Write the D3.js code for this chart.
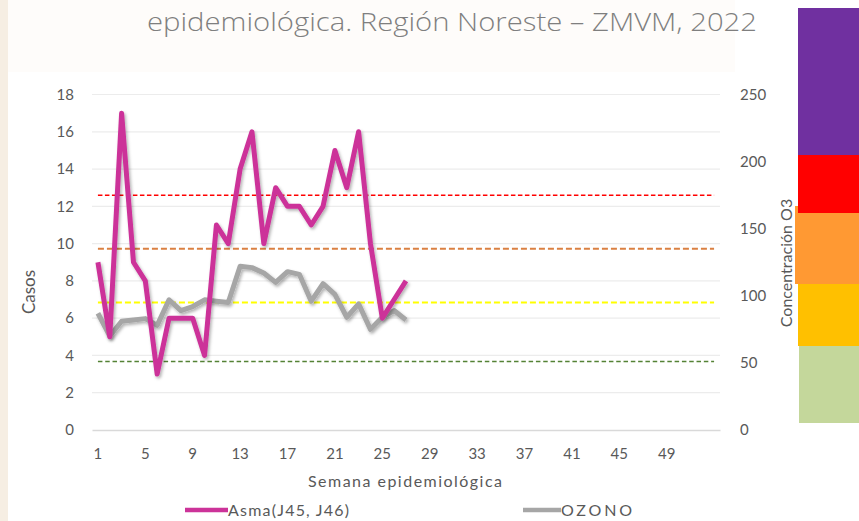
<!DOCTYPE html>
<html>
<head>
<meta charset="utf-8">
<script src="https://cdn.jsdelivr.net/npm/d3@7"></script>
<style>
	html, body { margin: 0; padding: 0; background: #fff; }
	svg { display: block; font-family: Lato, "Open Sans", sans-serif; }
</style>
</head>
<body>
<svg id="chart" width="859" height="521"></svg>
<script>
// Semanas epidemiológicas (categorías del eje X)
const weeks = [1, 2, 3, 4, 5, 6, 7, 8, 9, 10, 11, 12, 13, 14, 15, 16, 17, 18, 19, 20,
	21, 22, 23, 24, 25, 26, 27, 28, 29, 30, 31, 32, 33, 34, 35, 36, 37, 38, 39, 40,
	41, 42, 43, 44, 45, 46, 47, 48, 49, 50, 51, 52, 53];
const weekLabels = [1, 5, 9, 13, 17, 21, 25, 29, 33, 37, 41, 45, 49];

// Casos de asma por semana (eje izquierdo)
const asma = [9, 5, 17, 9, 8, 3, 6, 6, 6, 4, 11, 10, 14, 16, 10, 13, 12, 12, 11, 12,
	15, 13, 16, 10, 6, 7, 8];

// Concentración de ozono por semana (eje derecho)
const ozono = [87, 70, 81, 82, 83, 78, 97, 89, 92, 97, 96, 95, 122, 121, 117, 110, 118,
	116, 96, 109, 101, 84, 94, 75, 84, 89, 82];

// Límites del índice de ozono (eje derecho)
const ozoneLimits = [51, 95, 135, 175];
const limitColors = ["#548235", "#FFFF00", "#DA8042", "#FF0000"];

const casosTicks = [0, 2, 4, 6, 8, 10, 12, 14, 16, 18];
const o3Ticks = [0, 50, 100, 150, 200, 250];

// Barra de colores de la derecha (de arriba hacia abajo)
const bandColors = ["#7030A0", "#FF0000", "#FF9933", "#FFC000", "#C4D79B"];

const svg = d3.select("#chart");

const PLOT = { left: 92, right: 720, top: 94.5, bottom: 430 };
const TEXT = "#595959";

// fondo
svg.append("rect").attr("x", 0).attr("y", 0).attr("width", 8).attr("height", 521)
	.attr("fill", "#f6eee3");
svg.append("rect").attr("x", 8).attr("y", 0).attr("width", 727).attr("height", 72)
	.attr("fill", "#fefcfa");

// título (segunda línea)
svg.append("text")
	.attr("x", 452)
	.attr("y", 31)
	.attr("text-anchor", "middle")
	.attr("font-family", "'Open Sans', sans-serif")
	.attr("font-weight", 300)
	.attr("font-size", 25)
	.attr("fill", "#7f7f7f")
	.attr("textLength", 610)
	.attr("lengthAdjust", "spacingAndGlyphs")
	.text("epidemiológica. Región Noreste – ZMVM, 2022");

// barra de colores (el naranja queda debajo del rojo)
const bars = [
	{ c: 2, x: 795, y0: 206, y1: 284 },
	{ c: 0, x: 798, y0: 8, y1: 155 },
	{ c: 1, x: 798, y0: 155, y1: 213 },
	{ c: 3, x: 798, y0: 284, y1: 346 },
	{ c: 4, x: 799, y0: 346, y1: 423 },
];
svg.append("g")
	.selectAll("rect")
	.data(bars)
	.join("rect")
	.attr("x", (d) => d.x)
	.attr("y", (d) => d.y0)
	.attr("width", (d) => 859 - d.x)
	.attr("height", (d) => d.y1 - d.y0)
	.attr("fill", (d) => bandColors[d.c]);

// sombra de las líneas
const defs = svg.append("defs");
defs.append("filter")
	.attr("id", "shadow")
	.attr("x", "-10%").attr("y", "-10%")
	.attr("width", "120%").attr("height", "120%")
	.append("feDropShadow")
	.attr("dx", 1.5)
	.attr("dy", 2)
	.attr("stdDeviation", 1.5)
	.attr("flood-color", "#000")
	.attr("flood-opacity", 0.3);

// escalas
const x = d3.scaleBand().domain(weeks).range([PLOT.left, PLOT.right]).padding(0);
const xc = (w) => x(w) + x.bandwidth() / 2;
const yL = d3.scaleLinear().domain([0, 18]).range([PLOT.bottom, PLOT.top]);
const yR = d3.scaleLinear().domain([0, 250]).range([PLOT.bottom, PLOT.top]);

// rejilla
svg.append("g")
	.selectAll("line")
	.data(casosTicks.slice(1))
	.join("line")
	.attr("x1", PLOT.left)
	.attr("x2", PLOT.right)
	.attr("y1", (d) => yL(d))
	.attr("y2", (d) => yL(d))
	.attr("stroke", "#ececec")
	.attr("stroke-width", 1.2);

// eje izquierdo
const leftAxis = svg.append("g")
	.attr("transform", `translate(${PLOT.left - 18}, 0)`)
	.call(d3.axisLeft(yL).tickValues(casosTicks).tickSize(0).tickPadding(0));
leftAxis.select(".domain").remove();
leftAxis.selectAll("text")
	.attr("font-family", "Lato, sans-serif")
	.attr("font-size", 15)
	.attr("fill", TEXT);

// eje derecho
const rightAxis = svg.append("g")
	.attr("transform", `translate(${PLOT.right + 20}, 0)`)
	.call(d3.axisRight(yR).tickValues(o3Ticks).tickSize(0).tickPadding(0));
rightAxis.select(".domain").remove();
rightAxis.selectAll("text")
	.attr("font-family", "Lato, sans-serif")
	.attr("font-size", 15)
	.attr("fill", TEXT);

// eje inferior
const bottomAxis = svg.append("g")
	.attr("transform", `translate(0, ${PLOT.bottom})`)
	.call(d3.axisBottom(x).tickValues(weekLabels).tickSize(0).tickPadding(18));
bottomAxis.select(".domain")
	.attr("stroke", "#d9d9d9")
	.attr("stroke-width", 1.5);
bottomAxis.selectAll("text")
	.attr("font-family", "Lato, sans-serif")
	.attr("font-size", 15)
	.attr("fill", TEXT);

// líneas de límite de ozono
const dashes = ["4.5,2.8", "6,3", "6,3", "4.5,2.5"];
const widths = [1.5, 2, 2, 1.5];
svg.append("g")
	.selectAll("line")
	.data(ozoneLimits)
	.join("line")
	.attr("x1", xc(weeks[0]))
	.attr("x2", xc(weeks[weeks.length - 1]))
	.attr("y1", (d) => yR(d))
	.attr("y2", (d) => yR(d))
	.attr("stroke", (d, i) => limitColors[i])
	.attr("stroke-width", (d, i) => widths[i])
	.attr("stroke-dasharray", (d, i) => dashes[i]);

// series
const ozonoLine = d3.line()
	.x((d, i) => xc(weeks[i]))
	.y((d) => yR(d));
const asmaLine = d3.line()
	.x((d, i) => xc(weeks[i]))
	.y((d) => yL(d));

svg.append("path")
	.datum(ozono)
	.attr("d", ozonoLine)
	.attr("fill", "none")
	.attr("stroke", "#A6A6A6")
	.attr("stroke-width", 5)
	.attr("stroke-linejoin", "round")
	.attr("filter", "url(#shadow)");

svg.append("path")
	.datum(asma)
	.attr("d", asmaLine)
	.attr("fill", "none")
	.attr("stroke", "#CC3399")
	.attr("stroke-width", 5)
	.attr("stroke-linejoin", "round")
	.attr("filter", "url(#shadow)");

// títulos de ejes
svg.append("text")
	.attr("transform", "translate(35, 292) rotate(-90)")
	.attr("text-anchor", "middle")
	.attr("font-size", 17)
	.attr("fill", TEXT)
	.text("Casos");

svg.append("text")
	.attr("transform", "translate(792, 263) rotate(-90)")
	.attr("text-anchor", "middle")
	.attr("font-size", 16)
	.attr("fill", TEXT)
	.text("Concentración O3");

svg.append("text")
	.attr("x", 405)
	.attr("y", 487)
	.attr("text-anchor", "middle")
	.attr("font-size", 16)
	.attr("fill", TEXT)
	.attr("textLength", 194)
	.attr("lengthAdjust", "spacing")
	.text("Semana epidemiológica");

// leyenda
const legend = [
	{ name: "Asma(J45, J46)", color: "#CC3399", x: 185, len: 43, w: 121 },
	{ name: "OZONO", color: "#A6A6A6", x: 523, len: 38, w: 71 },
];
const lg = svg.append("g")
	.selectAll("g")
	.data(legend)
	.join("g")
	.attr("transform", (d) => `translate(${d.x}, 510)`);
lg.append("line")
	.attr("x1", 0)
	.attr("x2", (d) => d.len)
	.attr("stroke", (d) => d.color)
	.attr("stroke-width", 4.5);
lg.append("text")
	.attr("x", (d) => d.len)
	.attr("y", 6)
	.attr("font-size", 16)
	.attr("fill", TEXT)
	.attr("textLength", (d) => d.w)
	.attr("lengthAdjust", "spacing")
	.text((d) => d.name);
</script>
</body>
</html>
